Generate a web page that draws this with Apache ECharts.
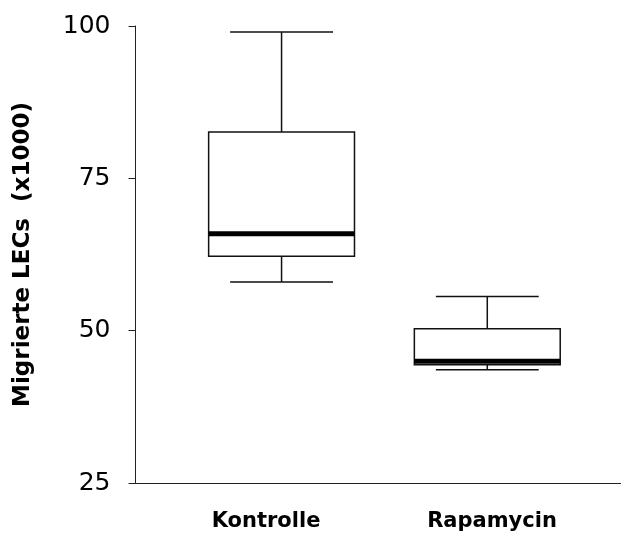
<!DOCTYPE html>
<html>
<head>
<meta charset="utf-8">
<script src="https://cdn.jsdelivr.net/npm/echarts@6/dist/echarts.min.js"></script>
<style>
html,body{margin:0;padding:0;background:#fff;}
#chart{width:621px;height:537px;}
</style>
</head>
<body>
<div id="chart"></div>
<script>
const categories = ['Kontrolle', 'Rapamycin'];
const minVals = [58.0, 43.6];
const q1Vals = [62.2, 44.4];
const medianVals = [65.9, 45.0];
const q3Vals = [82.6, 50.3];
const maxVals = [99.0, 55.6];
const yTicks = [25, 50, 75, 100];
const yTitle = 'Migrierte LECs  (x1000)';

const boxData = categories.map((c, i) => [i + 1, minVals[i], q1Vals[i], medianVals[i], q3Vals[i], maxVals[i]]);

const BOX_W = 0.709, CAP_W = 0.5;
const FONT = '"DejaVu Sans", "Liberation Sans", Arial, sans-serif';

function renderItem(params, api) {
  const x = api.value(0);
  const pMin = api.coord([x, api.value(1)]);
  const pQ1 = api.coord([x, api.value(2)]);
  const pMed = api.coord([x, api.value(3)]);
  const pQ3 = api.coord([x, api.value(4)]);
  const pMax = api.coord([x, api.value(5)]);
  const bl = api.coord([x - BOX_W / 2, 0])[0];
  const br = api.coord([x + BOX_W / 2, 0])[0];
  const cl = api.coord([x - CAP_W / 2, 0])[0];
  const cr = api.coord([x + CAP_W / 2, 0])[0];
  const cx = pMed[0];
  const ls = { stroke: '#111', lineWidth: 1.5, fill: null };
  return {
    type: 'group',
    children: [
      { type: 'line', shape: { x1: cx, y1: pMax[1], x2: cx, y2: pQ3[1] }, style: ls },
      { type: 'line', shape: { x1: cl, y1: pMax[1], x2: cr, y2: pMax[1] }, style: ls },
      { type: 'line', shape: { x1: cx, y1: pQ1[1], x2: cx, y2: pMin[1] }, style: ls },
      { type: 'line', shape: { x1: cl, y1: pMin[1], x2: cr, y2: pMin[1] }, style: ls },
      { type: 'rect', shape: { x: bl, y: pQ3[1], width: br - bl, height: pQ1[1] - pQ3[1] }, style: { stroke: '#111', lineWidth: 1.5, fill: '#fff' } },
      { type: 'line', shape: { x1: bl, y1: pMed[1], x2: br, y2: pMed[1] }, style: { stroke: '#000', lineWidth: 5 } }
    ]
  };
}

const chart = echarts.init(document.getElementById('chart'), null, { renderer: 'canvas' });
chart.setOption({
  animation: false,
  backgroundColor: '#fff',
  grid: [
    { left: 135.5, right: 0, top: 26, bottom: 54, outerBoundsMode: 'none', containLabel: false },
    { left: 153, right: 16, top: 26, bottom: 54, outerBoundsMode: 'none', containLabel: false }
  ],
  xAxis: [
    {
      type: 'value', gridIndex: 0, min: 0.29, max: 2.65,
      axisLine: { show: true, onZero: false, lineStyle: { color: '#222', width: 1 } },
      axisTick: { show: false }, axisLabel: { show: false }, splitLine: { show: false }
    },
    {
      type: 'category', gridIndex: 1, data: categories,
      axisLine: { show: false }, axisTick: { show: false }, splitLine: { show: false },
      axisLabel: { color: '#000', fontFamily: FONT, fontWeight: 'bold', fontSize: 21, margin: 28 }
    }
  ],
  yAxis: [
    {
      type: 'value', gridIndex: 0, min: yTicks[0], max: yTicks[yTicks.length - 1], interval: 25,
      name: yTitle, nameLocation: 'middle', nameGap: 101,
      nameTextStyle: { color: '#000', fontFamily: FONT, fontWeight: 'bold', fontSize: 23 },
      axisLine: { show: true, lineStyle: { color: '#222', width: 1 } },
      axisTick: { show: true, length: 7, lineStyle: { color: '#222', width: 1 } },
      axisLabel: { color: '#000', fontFamily: FONT, fontSize: 25, margin: 25 },
      splitLine: { show: false }
    },
    {
      type: 'value', gridIndex: 1, show: false, min: 25, max: 100
    }
  ],
  series: [
    {
      type: 'custom', xAxisIndex: 0, yAxisIndex: 0,
      renderItem: renderItem,
      encode: { x: 0, y: [1, 2, 3, 4, 5] },
      data: boxData
    }
  ]
});
</script>
</body>
</html>
